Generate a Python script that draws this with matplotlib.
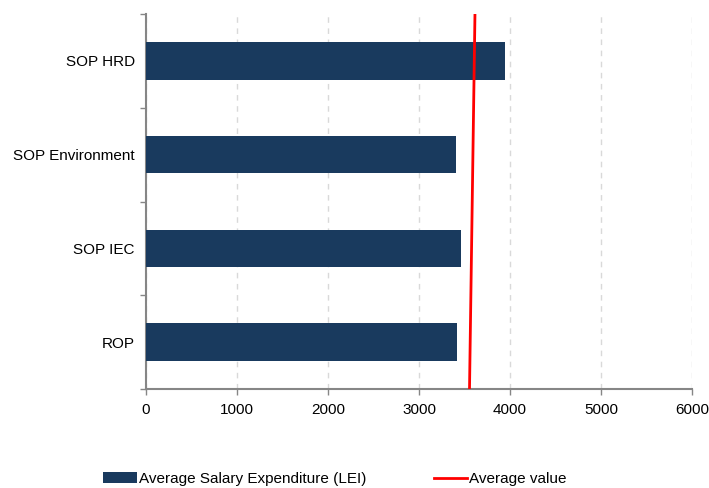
import matplotlib
matplotlib.use("Agg")
import matplotlib.pyplot as plt
from matplotlib.patches import Patch
from matplotlib.lines import Line2D

plt.rcParams['font.family'] = ['Liberation Sans', 'DejaVu Sans']

# Programmes, listed bottom to top
programmes = ["ROP", "SOP IEC", "SOP Environment", "SOP HRD"]
salary_expenditure = [3423, 3462, 3407, 3942]

# Average-value reference line (x at bottom and top of the plot)
avg_line_x = [3555, 3615]

x_ticks = [0, 1000, 2000, 3000, 4000, 5000, 6000]

bar_color = "#193A5E"
line_color = "#FF0000"
axis_gray = "#868686"

fig = plt.figure(figsize=(7.09, 4.88), dpi=100)
ax = fig.add_axes([146 / 709, 1 - 389 / 488, (692 - 146) / 709, (389 - 14) / 488])

ypos = list(range(len(programmes)))
ax.barh(ypos, salary_expenditure, height=0.4, color=bar_color, zorder=3)
ax.plot(avg_line_x, [-0.5, len(programmes) - 0.5], color=line_color, lw=2, zorder=4,
        solid_capstyle='butt')

ax.set_xlim(0, 6000)
ax.set_ylim(-0.5, len(programmes) - 0.5)
ax.set_xticks(x_ticks)
ax.set_xticklabels([str(t) for t in x_ticks])
ax.set_yticks(ypos)
ax.set_yticklabels(programmes)
ax.set_yticks([i - 0.5 for i in range(len(programmes) + 1)], minor=True)

ax.tick_params(axis='y', which='major', length=0, pad=8, labelsize=11, colors='black')
ax.tick_params(axis='y', which='minor', length=4, width=1, color=axis_gray, direction='out')
ax.tick_params(axis='x', which='major', length=4, width=1, color=axis_gray, pad=6,
               labelsize=11, labelcolor='black', direction='out')

ax.xaxis.grid(True, color="#D9D9D9", linestyle=(0, (4, 4)), lw=1, zorder=0)
ax.set_axisbelow(True)

for side in ("top", "right"):
    ax.spines[side].set_visible(False)
for side in ("left", "bottom"):
    ax.spines[side].set_color(axis_gray)
    ax.spines[side].set_linewidth(1.5)

handles = [
    Patch(facecolor=bar_color, edgecolor='none'),
    Line2D([0], [0], color=line_color, lw=2),
]
labels = ["Average Salary Expenditure (LEI)", "Average value"]
fig.legend(handles, labels, loc='center left', bbox_to_anchor=(103 / 709, 9 / 488),
           ncol=2, frameon=False, fontsize=11, handlelength=2.2, handleheight=0.7,
           handletextpad=0.15, columnspacing=4.4, borderpad=0, borderaxespad=0)

fig.savefig("out.png", dpi=100)
